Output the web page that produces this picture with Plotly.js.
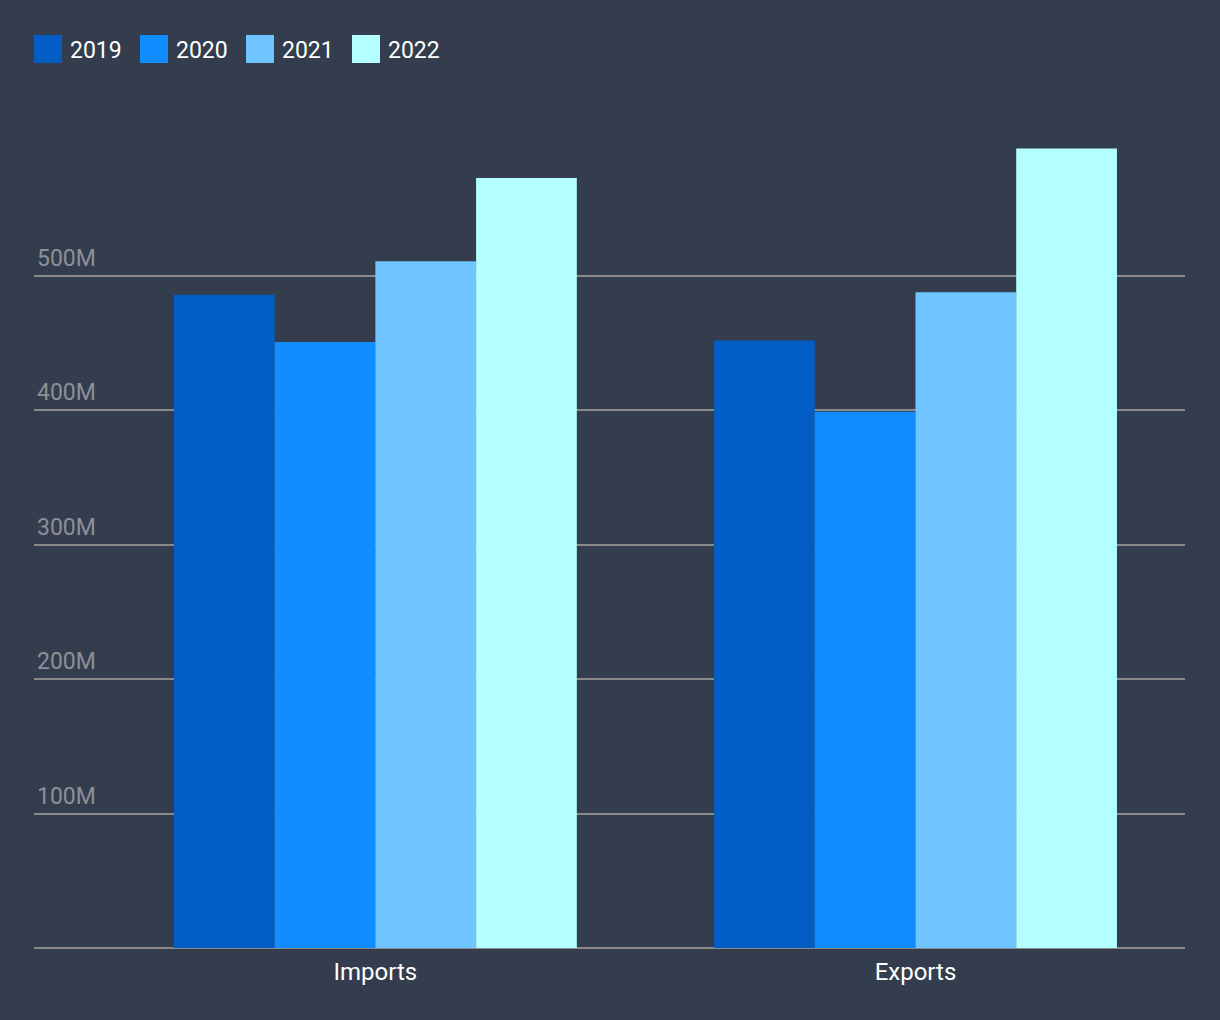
<!DOCTYPE html>
<html>
<head>
<meta charset="utf-8">
<script src="https://cdn.plot.ly/plotly-3.0.1.min.js"></script>
<style>html,body{margin:0;padding:0;background:#333d4d;}#chart{width:1220px;height:1020px;}</style>
</head>
<body>
<div id="chart"></div>
<script>
const categories = ["Imports", "Exports"];
const years = ["2019", "2020", "2021", "2022"];
const values2019 = [486e6, 452e6];
const values2020 = [451e6, 399e6];
const values2021 = [511e6, 488e6];
const values2022 = [573e6, 595e6];
const yTickVals = [100e6, 200e6, 300e6, 400e6, 500e6];
const yTickText = ["100M", "200M", "300M", "400M", "500M"];
const colors = ["#025dc4", "#118dff", "#6fc5ff", "#b3ffff"];

const series = [values2019, values2020, values2021, values2022];
const traces = series.map((vals, i) => ({
  type: "bar",
  name: years[i],
  x: categories,
  y: vals,
  marker: {color: colors[i], line: {width: 0}},
  hoverinfo: "x+y+name"
}));

const layout = {
  width: 1220, height: 1020,
  paper_bgcolor: "#333d4d",
  plot_bgcolor: "#333d4d",
  font: {family: "Roboto, sans-serif", color: "#ffffff", size: 23},
  margin: {l: 34, r: 35, t: 100, b: 72},
  barmode: "group",
  bargap: 0.254,
  bargroupgap: 0,
  showlegend: true,
  legend: {
    orientation: "h",
    xref: "container", yref: "container",
    x: 0.0246, y: 0.973, xanchor: "left", yanchor: "top",
    font: {size: 23, color: "#ffffff"},
    bgcolor: "rgba(0,0,0,0)",
    entrywidth: 61, entrywidthmode: "pixels",
    traceorder: "normal"
  },
  xaxis: {
    type: "category",
    range: [-0.632, 1.499],
    showgrid: false,
    showline: false,
    zeroline: false,
    ticks: "",
    ticklabelstandoff: 7,
    tickfont: {size: 24, color: "#ffffff"},
    fixedrange: true
  },
  yaxis: {
    range: [0, 631e6],
    tickmode: "array",
    tickvals: yTickVals,
    ticktext: yTickText,
    ticklabelposition: "inside top",
    ticklabelshift: -2,
    tickfont: {size: 23, color: "#8c9097"},
    showgrid: true,
    gridcolor: "#8a8a8a",
    gridwidth: 2,
    zeroline: true,
    zerolinecolor: "#8a8a8a",
    zerolinewidth: 2,
    showline: false,
    ticks: "",
    fixedrange: true
  }
};

Plotly.newPlot("chart", traces, layout, {displayModeBar: false, staticPlot: true}).then(() => {
  document.querySelectorAll(".legend [clip-path]").forEach(el => el.removeAttribute("clip-path"));
  document.querySelectorAll(".legendpoints path").forEach(p => {
    p.setAttribute("d", "M12,14H-16V-14H12Z");
  });
});
</script>
</body>
</html>
